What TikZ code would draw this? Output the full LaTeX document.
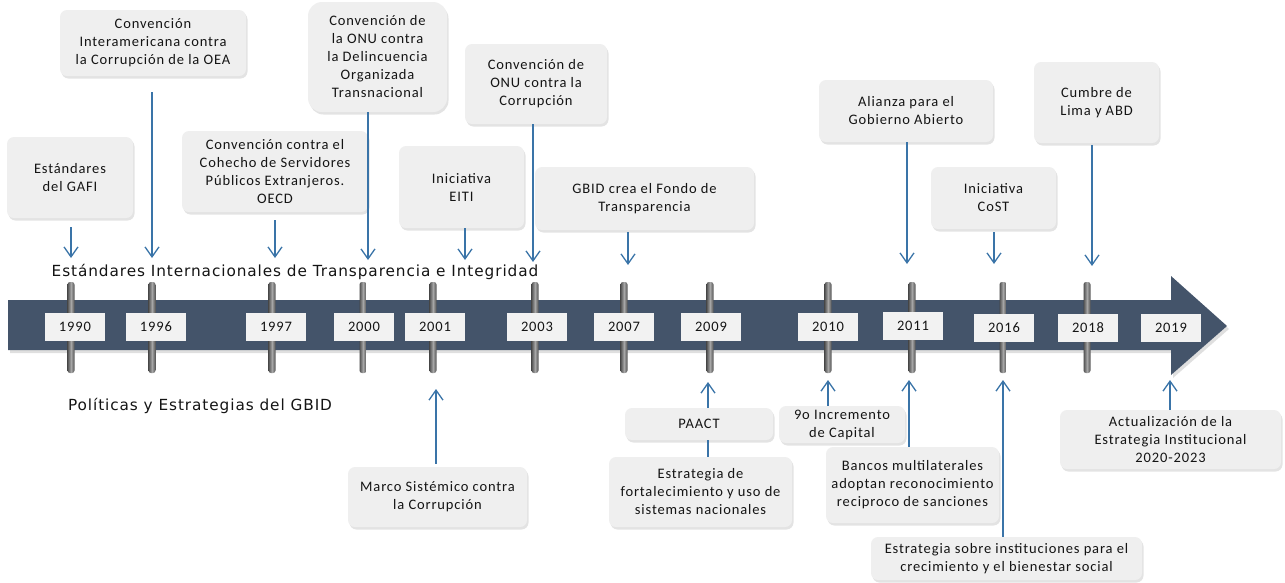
\documentclass[tikz,border=0pt]{standalone}
\usepackage{fontspec}
\setmainfont{Carlito}[LetterSpace=6]
\newfontfamily\titlefont{DejaVu Sans}[LetterSpace=6]
\usetikzlibrary{arrows.meta,shadows}
\definecolor{barblue}{HTML}{44546A}
\definecolor{boxgray}{HTML}{EFEFEF}
\definecolor{yeargray}{HTML}{F2F2F2}
\definecolor{arrblue}{HTML}{3A74A8}
\definecolor{txt}{HTML}{141414}
\begin{document}
\begin{tikzpicture}[x=1pt,y=-1pt,
  evbox/.style={rounded corners=7pt, fill=boxgray, align=center, text=txt,
    font=\fontsize{14.5}{18}\selectfont, inner sep=1pt,
    drop shadow={opacity=0.22, shadow xshift=1.5pt, shadow yshift=-2.5pt}},
  yearbox/.style={fill=yeargray, minimum width=60pt, minimum height=28pt,
    inner sep=0pt, font=\fontsize{14.5}{16}\selectfont, text=txt},
  tickbar/.style={minimum width=7pt, minimum height=91pt, inner sep=0pt,
    rounded corners=2.5pt, left color=black!68, right color=black!68,
    middle color=black!35},
  arr/.style={draw=arrblue, line width=1.3pt, -{Straight Barb[length=10pt,width=14pt]}},
  lnk/.style={draw=arrblue, line width=1.3pt},
  ttl/.style={font=\titlefont\fontsize{15.3}{18}\selectfont, text=txt, inner sep=0pt, anchor=base}
]
\useasboundingbox (0,0) rectangle (1285,582);
% main arrow
\fill[barblue, drop shadow={opacity=0.25, shadow xshift=2pt, shadow yshift=-3pt}]
  (8,300) -- (1171,300) -- (1171,276) -- (1227,326) -- (1171,375) -- (1171,350) -- (8,350) -- cycle;
% ticks
\foreach \n/\x in {1990/71,1996/152,1997/272,2000/363,2001/433,2003/535,2007/624,2009/710,2010/828,2011/912,2016/1003,2018/1087}
  \node[tickbar] (k\n) at (\x,327.5) {};
% year boxes
\node[yearbox] (y1990) at (75,327) {1990};
\node[yearbox] (y1996) at (156,327) {1996};
\node[yearbox] (y1997) at (276,327) {1997};
\node[yearbox] (y2000) at (364,327) {2000};
\node[yearbox] (y2001) at (435,327) {2001};
\node[yearbox] (y2003) at (537,327) {2003};
\node[yearbox] (y2007) at (624,327) {2007};
\node[yearbox] (y2009) at (711,327) {2009};
\node[yearbox] (y2010) at (828,327) {2010};
\node[yearbox] (y2011) at (913,326) {2011};
\node[yearbox] (y2016) at (1004,327.5) {2016};
\node[yearbox] (y2018) at (1088,327.5) {2018};
\node[yearbox] (y2019) at (1171,327.5) {2019};
% titles
\node[ttl] (std) at (295,276) {Estándares Internacionales de Transparencia e Integridad};
\node[ttl] (pol) at (200,410) {Políticas y Estrategias del GBID};
% top boxes
\node[evbox, minimum width=126pt, minimum height=81pt] (gafi) at (70,177.5) {Estándares\\del GAFI};
\node[evbox, minimum width=186pt, minimum height=66pt] (oea) at (153,43) {Convención\\Interamericana contra\\la Corrupción de la OEA};
\node[evbox, minimum width=186pt, minimum height=81pt] (oecd) at (275,171.5) {Convención contra el\\Cohecho de Servidores\\Públicos Extranjeros.\\OECD};
\node[evbox, rounded corners=14pt, minimum width=139pt, minimum height=110pt] (onud) at (377.5,57) {Convención de\\la ONU contra\\la Delincuencia\\Organizada\\Transnacional};
\node[evbox, minimum width=125pt, minimum height=82pt] (eiti) at (461.5,187) {Iniciativa\\EITI};
\node[evbox, minimum width=142pt, minimum height=80pt] (onuc) at (536,84) {Convención de\\ONU contra la\\Corrupción};
\node[evbox, minimum width=219pt, minimum height=63pt] (gbid) at (644.5,198.5) {GBID crea el Fondo de\\Transparencia};
\node[evbox, minimum width=174pt, minimum height=62pt] (alianza) at (906,111) {Alianza para el\\Gobierno Abierto};
\node[evbox, minimum width=125pt, minimum height=62pt] (cost) at (993.5,198) {Iniciativa\\CoST};
\node[evbox, minimum width=125pt, minimum height=81pt] (cumbre) at (1096.5,102.5) {Cumbre de\\Lima y ABD};
% bottom boxes
\node[evbox, minimum width=179pt, minimum height=60pt] (marco) at (437.5,497) {Marco Sistémico contra\\la Corrupción};
\node[evbox, minimum width=148pt, minimum height=32pt] (paact) at (699,424) {PAACT};
\node[evbox, minimum width=183pt, minimum height=70pt] (estf) at (700.5,492) {Estrategia de\\fortalecimiento y uso de\\sistemas nacionales};
\node[evbox, minimum width=126pt, minimum height=37pt] (inc9) at (842,424.5) {9o Incremento\\de Capital};
\node[evbox, minimum width=173pt, minimum height=76pt] (bancos) at (912.5,485) {Bancos multilaterales\\adoptan reconocimiento\\reciproco de sanciones};
\node[evbox, minimum width=271pt, minimum height=43pt] (estinst) at (1006.5,558.5) {Estrategia sobre instituciones para el\\crecimiento y el bienestar social};
\node[evbox, minimum width=221pt, minimum height=59pt] (actual) at (1170.5,439.5) {Actualización de la\\Estrategia Institucional\\2020-2023};
% arrow end points
\coordinate (e1990) at (71,258);
\coordinate (e1996) at (152,258);
\coordinate (e1997) at (275,258);
\coordinate (e2000) at (368,260);
\coordinate (e2001) at (465,260);
\coordinate (e2003) at (533,262);
\coordinate (e2007) at (628,265);
\coordinate (e2011) at (907,264);
\coordinate (e2016) at (994,264);
\coordinate (e2018) at (1092,266);
\coordinate (f2001) at (436,389);
\coordinate (f2009) at (708,382);
\coordinate (f2010) at (828,380);
\coordinate (f2011) at (909,380);
\coordinate (f2016) at (1003,380);
\coordinate (f2019) at (1170,380);
% top arrows
\draw[arr, shorten <=9pt] (gafi.south -| e1990) -- (e1990);
\draw[arr, shorten <=16pt] (oea.south -| e1996) -- (e1996);
\draw[arr, shorten <=8pt] (oecd.south -| e1997) -- (e1997);
\draw[arr] (onud.south -| e2000) -- (e2000);
\draw[arr] (eiti.south -| e2001) -- (e2001);
\draw[arr] (onuc.south -| e2003) -- (e2003);
\draw[arr, shorten <=2pt] (gbid.south -| e2007) -- (e2007);
\draw[arr] (alianza.south -| e2011) -- (e2011);
\draw[arr, shorten <=3pt] (cost.south -| e2016) -- (e2016);
\draw[arr, shorten <=2pt] (cumbre.south -| e2018) -- (e2018);
% bottom arrows
\draw[arr, shorten <=3pt] (marco.north -| f2001) -- (f2001);
\draw[arr] (paact.north -| f2009) -- (f2009);
\draw[lnk] (paact.south -| f2009) -- (estf.north -| f2009);
\draw[arr] (inc9.north -| f2010) -- (f2010);
\draw[arr] (bancos.north -| f2011) -- (f2011);
\draw[arr] (estinst.north -| f2016) -- (f2016);
\draw[arr] (actual.north -| f2019) -- (f2019);
\end{tikzpicture}
\end{document}
